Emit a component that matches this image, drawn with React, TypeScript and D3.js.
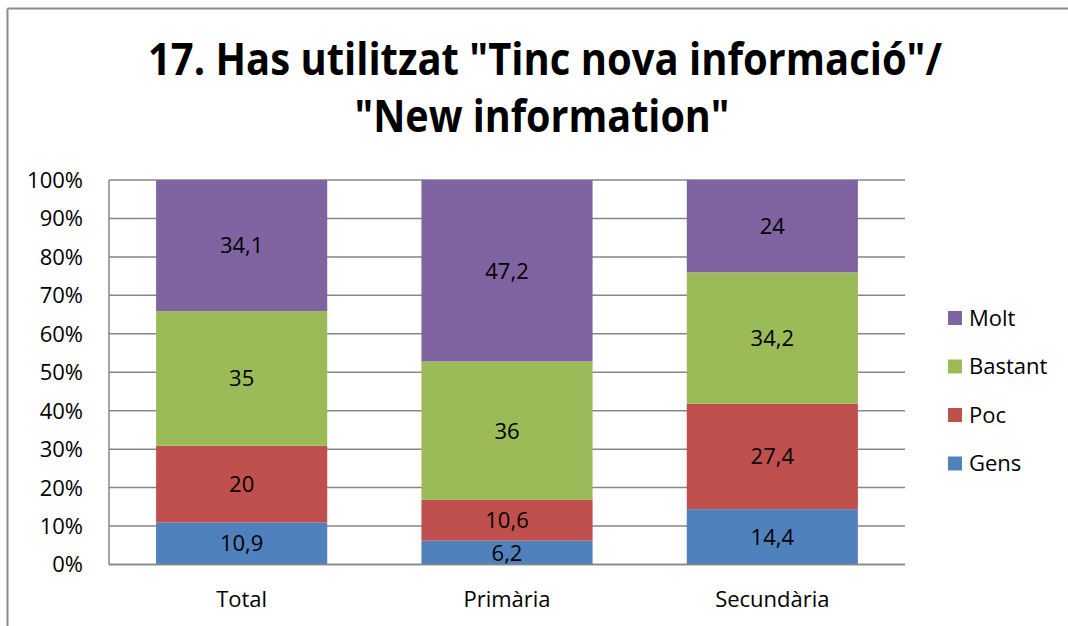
import React from "react";
import * as d3 from "d3";

const categories = ["Total", "Primària", "Secundària"];
const seriesNames = ["Gens", "Poc", "Bastant", "Molt"];
const seriesColors = ["#4F81BD", "#C0504D", "#9BBB59", "#8064A2"];
const gens = [10.9, 6.2, 14.4];
const poc = [20, 10.6, 27.4];
const bastant = [35, 36, 34.2];
const molt = [34.1, 47.2, 24];
const yTicks = [0, 0.1, 0.2, 0.3, 0.4, 0.5, 0.6, 0.7, 0.8, 0.9, 1];
const titleLines = ['17. Has utilitzat "Tinc nova informació"/', '"New information"'];

const W = 1068;
const H = 626;
const plotL = 109;
const plotR = 905;
const plotT = 180;
const plotB = 564.5;
const FONT = "'Open Sans', sans-serif";

export default function App() {
  const seriesValues = [gens, poc, bastant, molt];
  const x = d3
    .scaleBand<string>()
    .domain(categories)
    .range([plotL, plotR])
    .paddingInner(0.355)
    .paddingOuter(0.1775);
  const y = d3.scaleLinear().domain([0, 1]).range([plotB, plotT]);

  const rows = categories.map((c, i) => {
    const r: any = { cat: c };
    seriesNames.forEach((s, k) => (r[s] = seriesValues[k][i]));
    return r;
  });
  const stack = d3.stack<any>().keys(seriesNames).offset(d3.stackOffsetExpand);
  const stacked = stack(rows);
  const fmt = (v: number) => String(v).replace(".", ",");

  return (
    <svg
      width={W}
      height={H}
      style={{ position: "absolute", left: 0, top: 0, background: "#fff" }}
    >
      <rect x={0} y={0} width={W} height={H} fill="#fff" />
      {/* outer frame */}
      <line x1={7.5} y1={8.5} x2={W} y2={8.5} stroke="#8c8c8c" strokeWidth={2} />
      <line x1={7.5} y1={8.5} x2={7.5} y2={H} stroke="#8c8c8c" strokeWidth={2} />

      {/* title */}
      <text
        x={545}
        y={75}
        textAnchor="middle"
        fontFamily={FONT}
        fontWeight="bold"
        fontSize={44}
        textLength={794}
        lengthAdjust="spacingAndGlyphs"
        fill="#000"
      >
        {titleLines[0]}
      </text>
      <text
        x={542}
        y={132}
        textAnchor="middle"
        fontFamily={FONT}
        fontWeight="bold"
        fontSize={44}
        textLength={375}
        lengthAdjust="spacingAndGlyphs"
        fill="#000"
      >
        {titleLines[1]}
      </text>

      {/* gridlines */}
      {yTicks.map((t) => (
        <line
          key={t}
          x1={plotL}
          x2={plotR}
          y1={y(t)}
          y2={y(t)}
          stroke="#868686"
          strokeWidth={1.5}
        />
      ))}
      {/* y tick labels */}
      {yTicks.map((t) => (
        <text
          key={"l" + t}
          x={83}
          y={y(t)}
          dy="0.36em"
          textAnchor="end"
          fontFamily={FONT}
          fontSize={22}
          fill="#000"
        >
          {Math.round(t * 100) + "%"}
        </text>
      ))}

      {/* bars */}
      {stacked.map((layer, k) => (
        <g key={layer.key}>
          {layer.map((d, i) => (
            <rect
              key={i}
              x={x(categories[i])}
              width={x.bandwidth()}
              y={y(d[1])}
              height={y(d[0]) - y(d[1])}
              fill={seriesColors[k]}
            />
          ))}
        </g>
      ))}
      {/* data labels */}
      {stacked.map((layer, k) => (
        <g key={"t" + layer.key}>
          {layer.map((d, i) => (
            <text
              key={i}
              x={(x(categories[i]) as number) + x.bandwidth() / 2}
              y={(y(d[0]) + y(d[1])) / 2}
              dy="0.36em"
              textAnchor="middle"
              fontFamily={FONT}
              fontSize={22}
              fill="#000"
            >
              {fmt(seriesValues[k][i])}
            </text>
          ))}
        </g>
      ))}

      {/* axes */}
      <line x1={plotL} x2={plotL} y1={plotT} y2={plotB} stroke="#868686" strokeWidth={1.5} />
      <line x1={plotL} x2={plotR} y1={plotB} y2={plotB} stroke="#868686" strokeWidth={1.5} />

      {/* category labels */}
      {categories.map((c) => (
        <text
          key={c}
          x={(x(c) as number) + x.bandwidth() / 2}
          y={607}
          textAnchor="middle"
          fontFamily={FONT}
          fontSize={22}
          fill="#000"
        >
          {c}
        </text>
      ))}

      {/* legend */}
      {seriesNames
        .slice()
        .reverse()
        .map((s, j) => {
          const k = seriesNames.length - 1 - j;
          const cy = 318 + j * 48.5;
          return (
            <g key={s}>
              <rect x={948} y={cy - 7} width={14} height={14} fill={seriesColors[k]} />
              <text
                x={969}
                y={cy}
                dy="0.36em"
                fontFamily={FONT}
                fontSize={22}
                fill="#000"
              >
                {s}
              </text>
            </g>
          );
        })}
    </svg>
  );
}
